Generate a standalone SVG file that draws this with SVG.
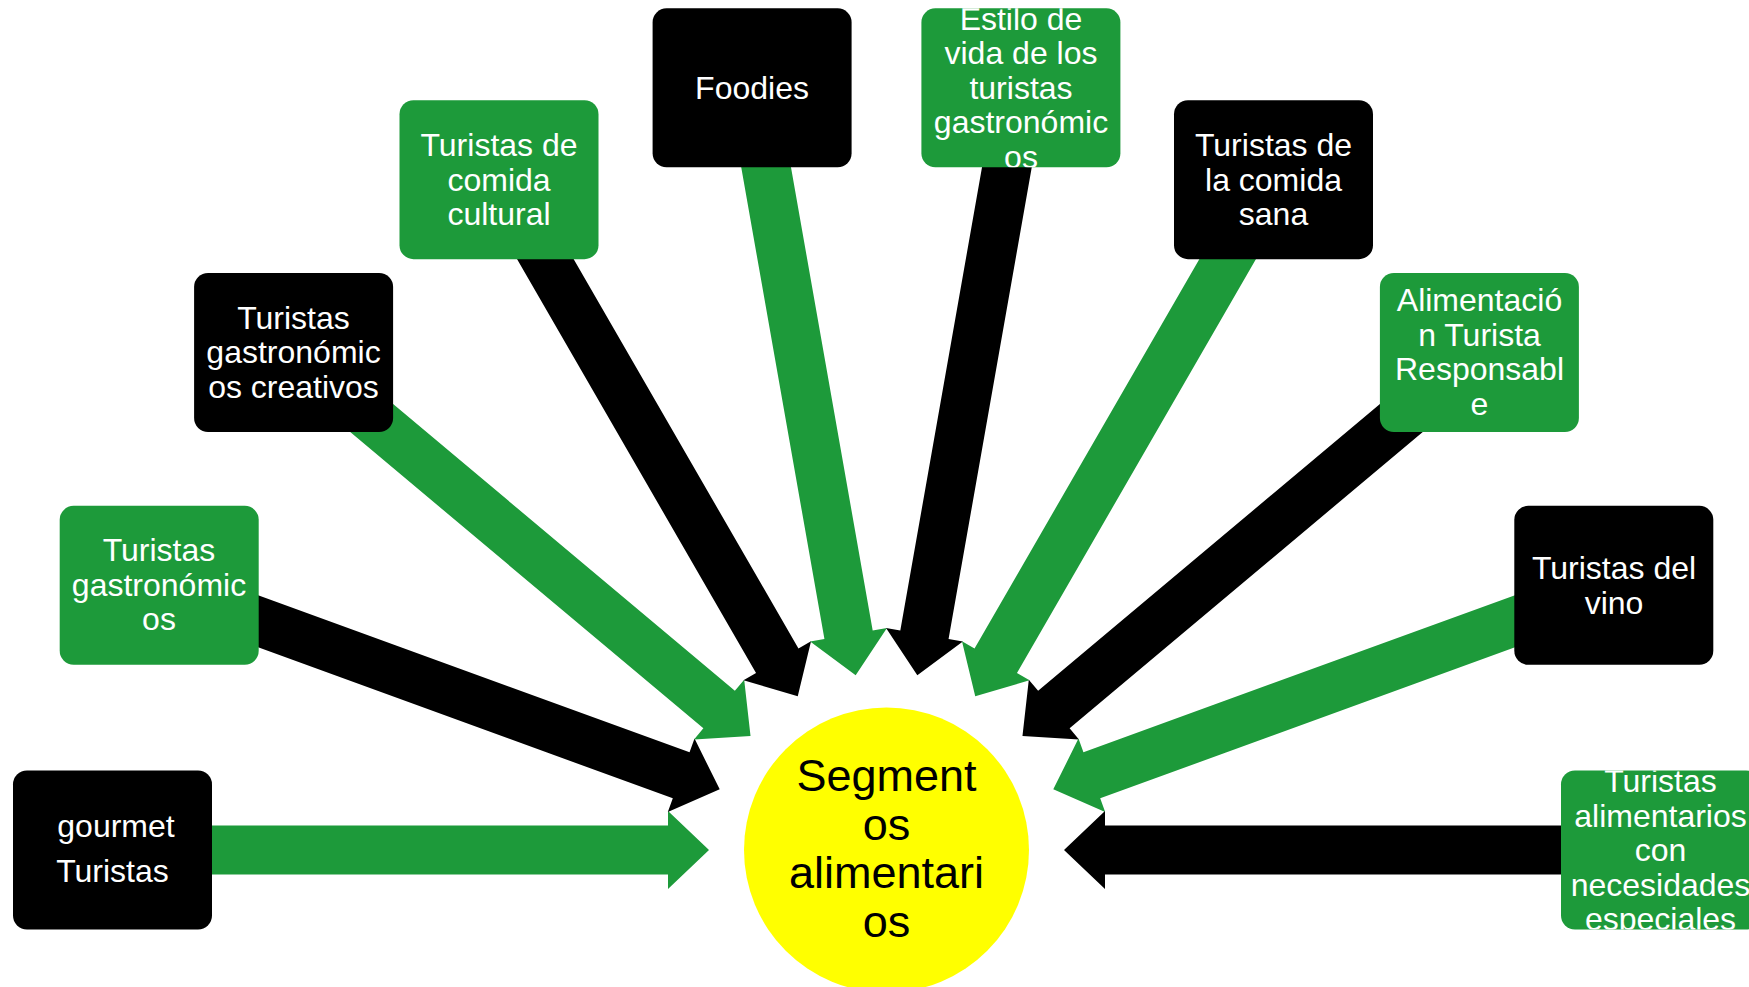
<svg xmlns="http://www.w3.org/2000/svg" width="1749" height="987" viewBox="0 0 1749 987">
<style>
.g{fill:#1D9A3A}
.k{fill:#000000}
.t{fill:#ffffff;font-family:"Liberation Sans",Arial,sans-serif;font-size:32px;text-anchor:middle}
.c{fill:#000000;font-family:"Liberation Sans",Arial,sans-serif;font-size:45px;text-anchor:middle}
</style>
<defs>
<clipPath id="clipEstilo"><rect x="921.4" y="8.3" width="199" height="159" rx="14"/></clipPath>
<clipPath id="clipNec"><rect x="1561" y="770.5" width="199" height="159" rx="14"/></clipPath>
</defs>
<rect width="1749" height="987" fill="#ffffff"/>
<g id="connectors">
<path class="g" transform="translate(886.5 850) rotate(180)" d="M177.5,0 L218.5,-39 L218.5,-24.5 L774,-24.5 L774,24.5 L218.5,24.5 L218.5,39 Z"/>
<path class="k" transform="translate(886.5 850) rotate(200)" d="M177.5,0 L218.5,-39 L218.5,-24.5 L774,-24.5 L774,24.5 L218.5,24.5 L218.5,39 Z"/>
<path class="g" transform="translate(886.5 850) rotate(220)" d="M177.5,0 L218.5,-39 L218.5,-24.5 L774,-24.5 L774,24.5 L218.5,24.5 L218.5,39 Z"/>
<path class="k" transform="translate(886.5 850) rotate(240)" d="M177.5,0 L218.5,-39 L218.5,-24.5 L774,-24.5 L774,24.5 L218.5,24.5 L218.5,39 Z"/>
<path class="g" transform="translate(886.5 850) rotate(260)" d="M177.5,0 L218.5,-39 L218.5,-24.5 L774,-24.5 L774,24.5 L218.5,24.5 L218.5,39 Z"/>
<path class="k" transform="translate(886.5 850) rotate(280)" d="M177.5,0 L218.5,-39 L218.5,-24.5 L774,-24.5 L774,24.5 L218.5,24.5 L218.5,39 Z"/>
<path class="g" transform="translate(886.5 850) rotate(300)" d="M177.5,0 L218.5,-39 L218.5,-24.5 L774,-24.5 L774,24.5 L218.5,24.5 L218.5,39 Z"/>
<path class="k" transform="translate(886.5 850) rotate(320)" d="M177.5,0 L218.5,-39 L218.5,-24.5 L774,-24.5 L774,24.5 L218.5,24.5 L218.5,39 Z"/>
<path class="g" transform="translate(886.5 850) rotate(340)" d="M177.5,0 L218.5,-39 L218.5,-24.5 L774,-24.5 L774,24.5 L218.5,24.5 L218.5,39 Z"/>
<path class="k" transform="translate(886.5 850) rotate(360)" d="M177.5,0 L218.5,-39 L218.5,-24.5 L774,-24.5 L774,24.5 L218.5,24.5 L218.5,39 Z"/>
</g>
<g id="center">
<circle cx="886.5" cy="850" r="142.5" fill="#FFFF00"/>
<text class="c"><tspan x="886.5" y="791">Segment</tspan><tspan x="886.5" y="839.5">os</tspan><tspan x="886.5" y="888">alimentari</tspan><tspan x="886.5" y="937">os</tspan></text>
</g>
<g id="n-gourmet">
<rect class="k" x="13" y="770.5" width="199" height="159" rx="14"/>
<text class="t"><tspan x="116" y="837">gourmet</tspan><tspan x="112.5" y="882">Turistas</tspan></text>
</g>
<g id="n-gastronomicos">
<rect class="g" x="59.7" y="505.8" width="199" height="159" rx="14"/>
<text class="t"><tspan x="159" y="561">Turistas</tspan><tspan x="159" y="595.5">gastronómic</tspan><tspan x="159" y="630">os</tspan></text>
</g>
<g id="n-creativos">
<rect class="k" x="194.1" y="273" width="199" height="159" rx="14"/>
<text class="t"><tspan x="293.5" y="328.5">Turistas</tspan><tspan x="293.5" y="363">gastronómic</tspan><tspan x="293.5" y="397.5">os creativos</tspan></text>
</g>
<g id="n-cultural">
<rect class="g" x="399.5" y="100.2" width="199" height="159" rx="14"/>
<text class="t"><tspan x="499" y="156">Turistas de</tspan><tspan x="499" y="190.5">comida</tspan><tspan x="499" y="225">cultural</tspan></text>
</g>
<g id="n-foodies">
<rect class="k" x="652.6" y="8.3" width="199" height="159" rx="14"/>
<text class="t"><tspan x="752" y="99">Foodies</tspan></text>
</g>
<g id="n-estilo">
<rect class="g" x="921.4" y="8.3" width="199" height="159" rx="14"/>
<g clip-path="url(#clipEstilo)">
<text class="t"><tspan x="1021" y="29.5">Estilo de</tspan><tspan x="1021" y="64">vida de los</tspan><tspan x="1021" y="98.5">turistas</tspan><tspan x="1021" y="133">gastronómic</tspan><tspan x="1021" y="167.5">os</tspan></text>
</g>
</g>
<g id="n-sana">
<rect class="k" x="1174" y="100.2" width="199" height="159" rx="14"/>
<text class="t"><tspan x="1273.5" y="156">Turistas de</tspan><tspan x="1273.5" y="190.5">la comida</tspan><tspan x="1273.5" y="225">sana</tspan></text>
</g>
<g id="n-responsable">
<rect class="g" x="1379.9" y="273" width="199" height="159" rx="14"/>
<text class="t"><tspan x="1479.5" y="311">Alimentació</tspan><tspan x="1479.5" y="345.5">n Turista</tspan><tspan x="1479.5" y="380">Responsabl</tspan><tspan x="1479.5" y="414.5">e</tspan></text>
</g>
<g id="n-vino">
<rect class="k" x="1514.3" y="505.8" width="199" height="159" rx="14"/>
<text class="t"><tspan x="1614" y="579">Turistas del</tspan><tspan x="1614" y="613.5">vino</tspan></text>
</g>
<g id="n-necesidades">
<rect class="g" x="1561" y="770.5" width="199" height="159" rx="14"/>
<g clip-path="url(#clipNec)">
<text class="t"><tspan x="1660.5" y="792">Turistas</tspan><tspan x="1660.5" y="826.5">alimentarios</tspan><tspan x="1660.5" y="861">con</tspan><tspan x="1660.5" y="895.5">necesidades</tspan><tspan x="1660.5" y="930">especiales</tspan></text>
</g>
</g>
</svg>
